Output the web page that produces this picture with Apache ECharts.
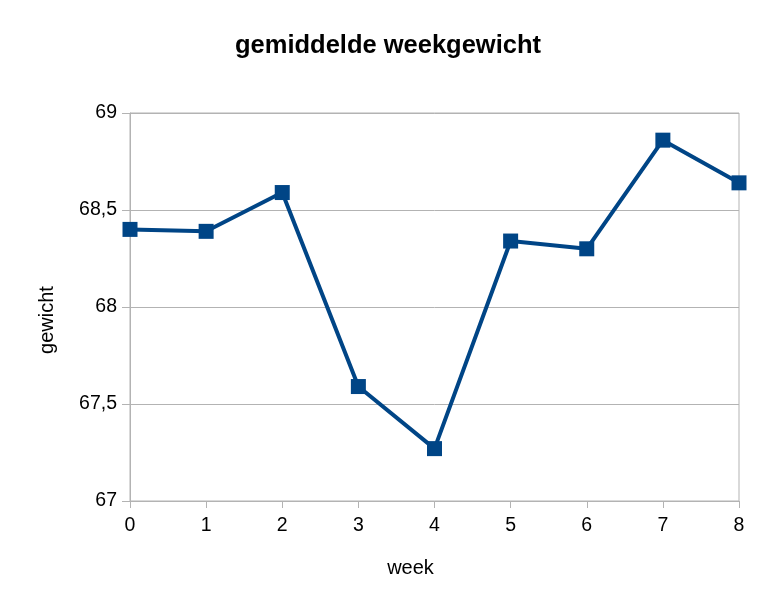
<!DOCTYPE html>
<html>
<head>
<meta charset="utf-8">
<script src="https://cdn.jsdelivr.net/npm/echarts@6/dist/echarts.min.js"></script>
<style>html,body{margin:0;padding:0;background:#fff;}#c{width:776px;height:615px;}</style>
</head>
<body>
<div id="c"></div>
<script>
var weeks = [0, 1, 2, 3, 4, 5, 6, 7, 8];
var gewicht = [68.40, 68.39, 68.59, 67.59, 67.27, 68.34, 68.30, 68.86, 68.64];
var titleText = 'gemiddelde weekgewicht';
var xName = 'week';
var yName = 'gewicht';

var chart = echarts.init(document.getElementById('c'), null, {renderer: 'canvas'});
var font = '"Liberation Sans", Arial, sans-serif';
chart.setOption({
  animation: false,
  backgroundColor: '#ffffff',
  title: {
    text: titleText, left: 'center', top: 28,
    textStyle: {fontFamily: font, fontSize: 25.5, fontWeight: 'bold', color: '#000'}
  },
  grid: {left: 130, right: 37, top: 113, bottom: 114, show: true, borderColor: '#b3b3b3', borderWidth: 1},
  xAxis: {
    type: 'value', min: 0, max: 8, interval: 1,
    name: xName, nameLocation: 'middle', nameGap: 57,
    nameTextStyle: {fontFamily: font, fontSize: 20, color: '#000', padding: [0, 48, 0, 0]},
    axisLine: {show: true, lineStyle: {color: '#b3b3b3'}},
    axisTick: {show: true, length: 7, lineStyle: {color: '#b3b3b3'}},
    axisLabel: {fontFamily: font, fontSize: 19.5, color: '#000', margin: 15},
    splitLine: {show: false}
  },
  yAxis: {
    type: 'value', min: 67, max: 69, interval: 0.5,
    name: yName, nameLocation: 'middle', nameGap: 73, nameRotate: 90,
    nameTextStyle: {fontFamily: font, fontSize: 20, color: '#000', padding: [0, 26, 0, 0]},
    axisLine: {show: true, lineStyle: {color: '#b3b3b3'}},
    axisTick: {show: true, length: 8, lineStyle: {color: '#b3b3b3'}},
    axisLabel: {fontFamily: font, fontSize: 19.5, color: '#000', margin: 13,
      formatter: function (v) { return String(v).replace('.', ','); }},
    splitLine: {show: true, lineStyle: {color: '#b3b3b3', width: 1}}
  },
  series: [{
    type: 'line',
    data: weeks.map(function (w, i) { return [w, gewicht[i]]; }),
    symbol: 'rect', symbolSize: 15,
    lineStyle: {color: '#004586', width: 4},
    itemStyle: {color: '#004586'},
    z: 3
  }]
});
</script>
</body>
</html>
